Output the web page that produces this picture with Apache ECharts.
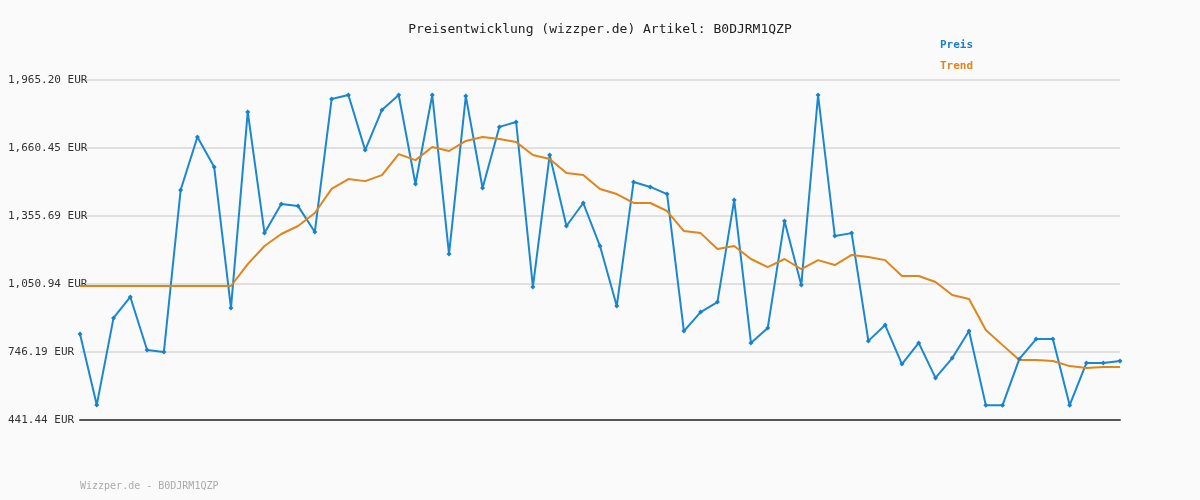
<!DOCTYPE html>
<html><head><meta charset="utf-8">
<script src="https://cdn.jsdelivr.net/npm/echarts@6/dist/echarts.min.js"></script>
<style>html,body{margin:0;background:#fafafa}#main{width:1200px;height:500px}</style>
</head><body><div id="main"></div>
<script>
var preis = [827,509,899,993,755,746,1472,1710,1575,943,1822,1279,1409,1400,1284,1880,1898,1651,1831,1898,1499,1898,1185,1893,1481,1755,1777,1038,1629,1311,1414,1221,952,1508,1486,1454,840,925,970,1427,787,854,1333,1046,1898,1266,1279,796,867,692,787,630,719,840,508,508,715,804,804,508,697,697,706];
var trend = [1042,1042,1042,1042,1042,1042,1042,1042,1042,1042,1140,1221,1275,1311,1369,1477,1521,1512,1539,1633,1606,1665,1647,1692,1710,1701,1687,1629,1611,1548,1539,1477,1454,1414,1414,1378,1288,1279,1208,1221,1163,1127,1163,1118,1158,1136,1181,1172,1158,1087,1087,1060,1002,984,845,777,710,710,706,683,674,679,679];
var yTicks = [441.44,746.19,1050.94,1355.69,1660.45,1965.20];
var cats = preis.map(function (v, i) { return i })
var font = 'DejaVu Sans Mono'

var myChart = echarts.init(document.getElementById('main'))
myChart.setOption({
  backgroundColor: '#fafafa',
  animation: false,
  title: {
    text: 'Preisentwicklung (wizzper.de) Artikel: B0DJRM1QZP',
    left: 'center', top: 18,
    textStyle: { fontFamily: font, fontSize: 13, fontWeight: 'normal', color: '#222' }
  },
  graphic: [
    { type: 'text', left: 940, top: 40, style: { text: 'Preis', fill: '#1a80c8', font: 'bold 11px ' + font } },
    { type: 'text', left: 940, top: 61, style: { text: 'Trend', fill: '#e0851a', font: 'bold 11px ' + font } },
    { type: 'text', left: 80, top: 481, style: { text: 'Wizzper.de - B0DJRM1QZP', fill: '#aaa', font: '10px ' + font } }
  ],
  grid: { left: 80, right: 80, top: 80, bottom: 80 },
  xAxis: {
    type: 'category', data: cats, boundaryGap: false,
    axisLine: { lineStyle: { color: '#555', width: 2 } },
    axisTick: { show: false }, axisLabel: { show: false }
  },
  yAxis: {
    type: 'value', min: 441.44, max: 1965.20,
    axisLine: { show: false },
    axisTick: { show: false, customValues: yTicks },
    axisLabel: {
      customValues: yTicks, align: 'left', margin: 72,
      fontFamily: font, fontSize: 11, color: '#333',
      formatter: function (v) {
        return v.toLocaleString('en-US', { minimumFractionDigits: 2, maximumFractionDigits: 2 }) + ' EUR'
      }
    },
    splitLine: { lineStyle: { color: '#e0e0e0', width: 2 } }
  },
  series: [
    { name: 'Preis', type: 'line', data: preis, symbol: 'diamond', symbolSize: 5,
      itemStyle: { color: '#1a80c8' }, lineStyle: { color: '#1a88d0', width: 2 } },
    { name: 'Trend', type: 'line', data: trend, showSymbol: false,
      lineStyle: { color: '#e0851a', width: 2 } }
  ]
})
</script></body></html>
